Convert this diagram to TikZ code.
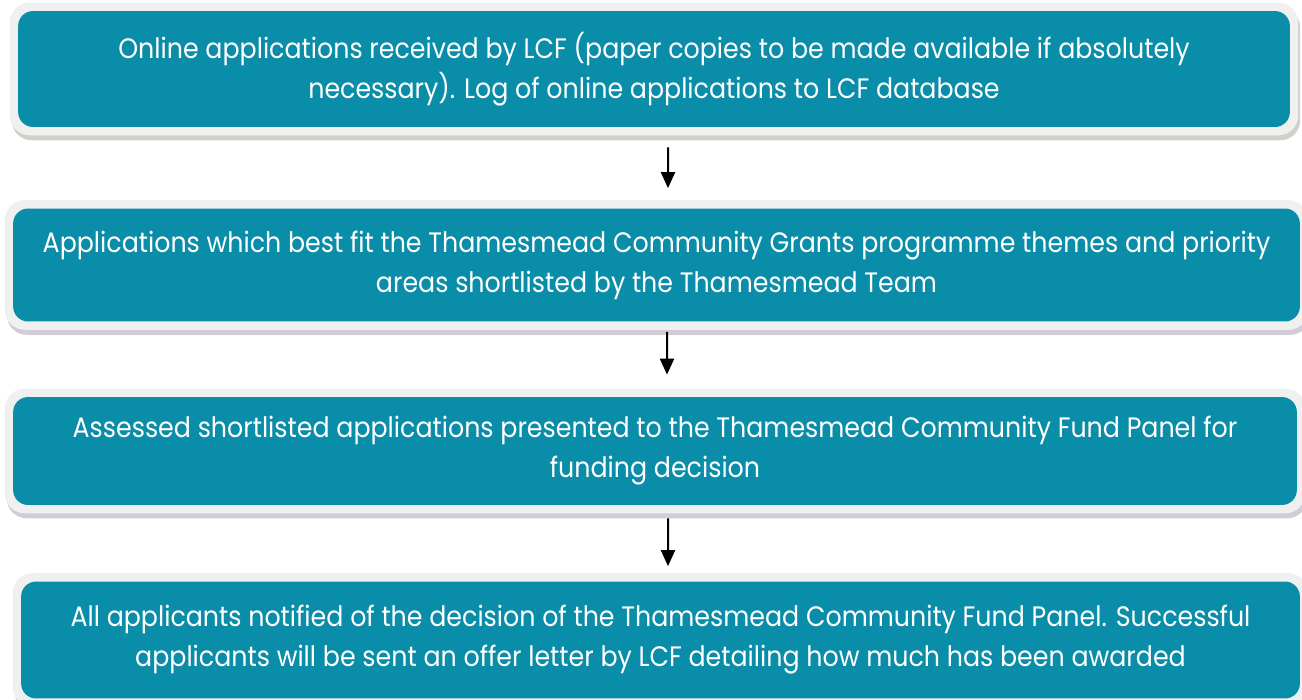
\documentclass[tikz,border=0pt]{standalone}
\usepackage{fontspec}
\setmainfont[FakeStretch=0.9]{Poppins}
\definecolor{stepteal}{RGB}{10, 141, 168}
\definecolor{framegrey}{RGB}{240, 240, 240}
\definecolor{shadegreen}{RGB}{130, 145, 118}
\definecolor{shadeplum}{RGB}{140, 128, 152}
\usetikzlibrary{arrows.meta, positioning, fit, shadows, backgrounds}

\begin{document}
\begin{tikzpicture}[
  x=0.02cm, y=-0.02cm,
  sbox/.style={fill=stepteal, rounded corners=0.3cm, align=center, text=white, inner sep=0pt, font=\fontsize{16}{22.8}\selectfont},
  sframe/.style={fill=framegrey, rounded corners=0.4cm, inner sep=0.16cm, drop shadow={shadow xshift=0.04cm, shadow yshift=-0.1cm, opacity=0.4, fill=#1}},
  sarrow/.style={-{Triangle[width=0.28cm, length=0.32cm]}, line width=0.04cm, black}
]
  \useasboundingbox (0,0) rectangle (1302,700);
  \node[sbox, minimum width=25.44cm, minimum height=2.32cm] (s1) at (654, 69) {Online applications received by LCF (paper copies to be made available if absolutely\\necessary). Log of online applications to LCF database};
  \node[sbox, minimum width=25.74cm, minimum height=2.26cm] (s2) at (656.5, 265) {Applications which best fit the Thamesmead Community Grants programme themes and priority\\areas shortlisted by the Thamesmead Team};
  \node[sbox, minimum width=25.68cm, minimum height=2.16cm] (s3) at (655, 451) {Assessed shortlisted applications presented to the Thamesmead Community Fund Panel for\\funding decision};
  \node[sbox, minimum width=25.58cm, minimum height=2.34cm] (s4) at (660.5, 640) {All applicants notified of the decision of the Thamesmead Community Fund Panel. Successful\\applicants will be sent an offer letter by LCF detailing how much has been awarded};
  \begin{scope}[on background layer]
    \node[sframe=shadegreen, fit=(s1)] (f1) {};
    \node[sframe=shadeplum, fit=(s2)] (f2) {};
    \node[sframe=shadeplum, fit=(s3)] (f3) {};
    \node[sframe=shadeplum, fit=(s4)] (f4) {};
  \end{scope}
  \draw[sarrow, shorten <=0.4cm, shorten >=0.4cm] ([xshift=0.28cm]s1.south) -- ([xshift=0.23cm]s2.north);
  \draw[sarrow, shorten <=0.2cm, shorten >=0.44cm] ([xshift=0.21cm]s2.south) -- ([xshift=0.24cm]s3.north);
  \draw[sarrow, shorten <=0.26cm, shorten >=0.3cm] ([xshift=0.26cm]s3.south) -- ([xshift=0.15cm]s4.north);
\end{tikzpicture}
\end{document}
